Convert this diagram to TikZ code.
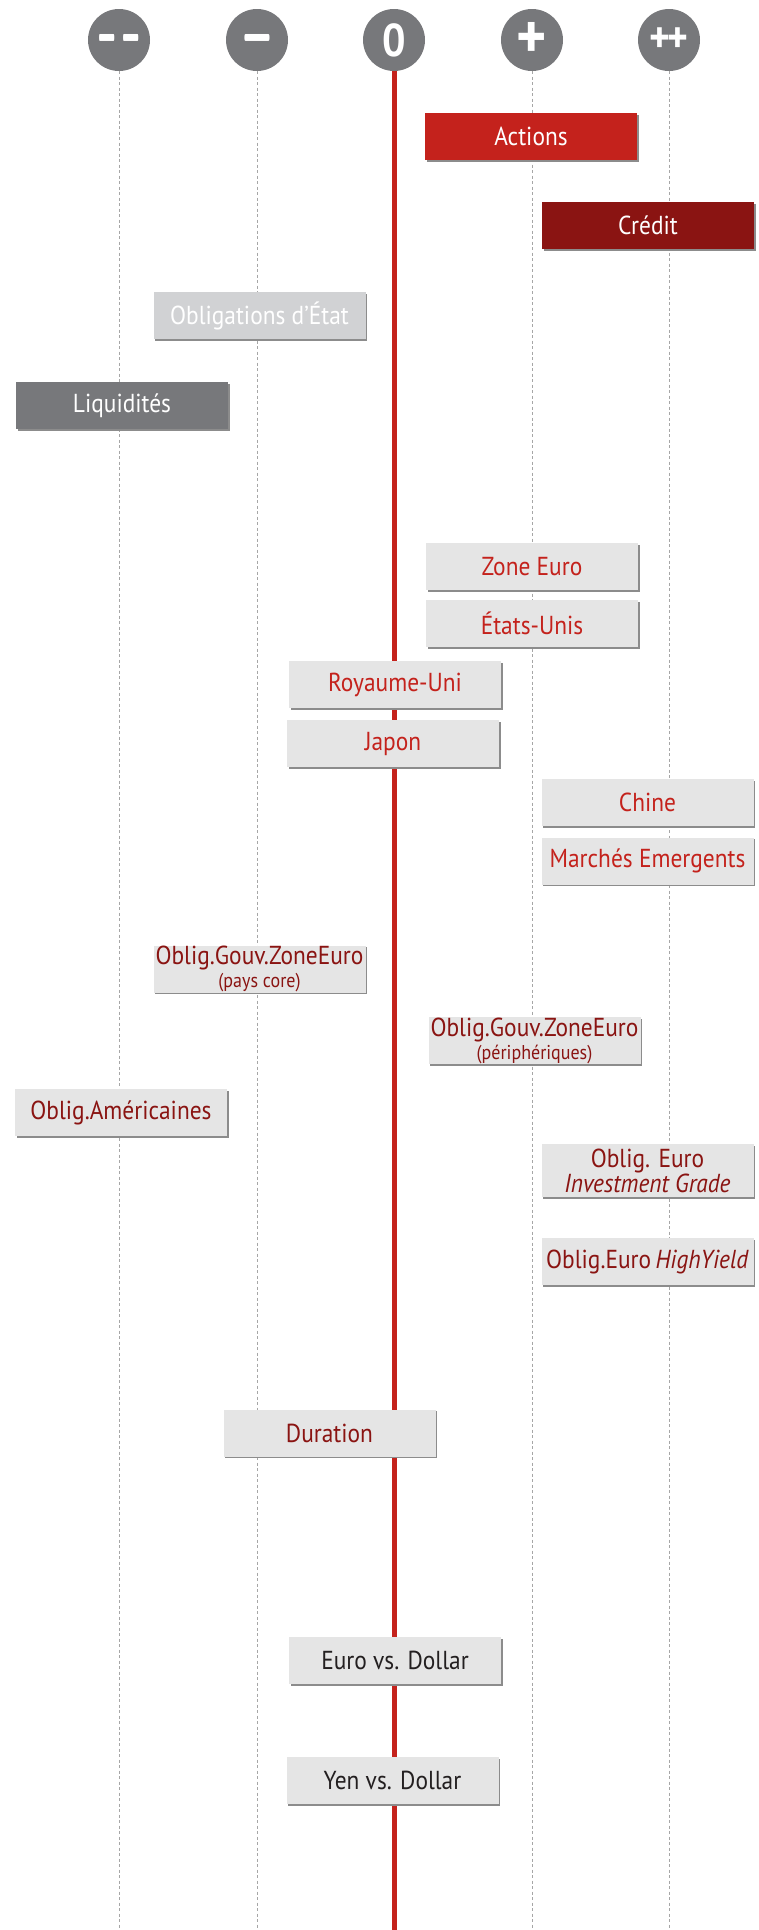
\documentclass[tikz,border=0pt]{standalone}
\usepackage{fontspec}
\setmainfont{PT Sans}[FakeStretch=0.9]
\usepackage{tikz}
\usetikzlibrary{shadows}
\definecolor{actred}{HTML}{C4221C}
\definecolor{credred}{HTML}{8A1412}
\definecolor{etatgray}{HTML}{D1D2D4}
\definecolor{liqgray}{HTML}{77787B}
\definecolor{boxgray}{HTML}{E5E5E5}
\definecolor{fxdark}{HTML}{231F20}
\newcommand{\Sub}[1]{{\fontsize{20}{21}\selectfont #1}}
% thick minus centred on the baseline (#1 = xscale, #2 = yscale), at 24pt
\newcommand{\Minus}[2]{\smash{\raisebox{-#2\dimexpr 6pt\relax}{\scalebox{#1}[#2]{$-$}}}}

\begin{document}
\begin{tikzpicture}[x=1pt, y=-1pt,
    level/.style={circle, fill=liqgray, minimum size=62pt, inner sep=0pt,
      text=white, font=\bfseries\fontsize{40}{40}\selectfont},
    bar/.style={rectangle, minimum width=212pt, minimum height=47pt, inner sep=0pt,
      align=center, font=\fontsize{26}{26}\selectfont,
      drop shadow={shadow xshift=1.5pt, shadow yshift=-1.5pt, fill=black!45, opacity=1}},
    pays/.style={bar, fill=boxgray, text=actred},
    oblig/.style={bar, fill=boxgray, text=credred},
    fx/.style={bar, fill=boxgray, text=fxdark},
    guide/.style={draw=black!35, line width=0.8pt, dash pattern=on 3pt off 2.5pt}]

  \useasboundingbox (0,0) rectangle (758,1930);

  % echelle
  \node[level] (mm) at (119,40) {\fontsize{24}{24}\selectfont\Minus{1}{7}\kern5pt\Minus{1}{7}};
  \node[level] (m)  at (257,40) {\fontsize{24}{24}\selectfont\Minus{1.65}{7}};
  \node[level] (z)  at (394,40) {\fontsize{46}{46}\selectfont 0};
  \node[level] (p)  at (532,40) {\fontsize{64}{64}\selectfont +};
  \node[level] (pp) at (669,40) {\fontsize{44}{44}\selectfont +\kern-3pt+};

  \foreach \c in {mm,m,p,pp}
    \draw[guide] (\c.south) -- (\c.south |- 0,1930);
  \draw[actred, line width=5pt] (z.south) -- (z.south |- 0,1930);

  % classes d'actifs
  \node[bar, fill=actred, text=white]    (actions) at (531,136.5) {Actions};
  \node[bar, fill=credred, text=white]   (credit)  at (648,225.5) {Crédit};
  \node[bar, fill=etatgray, text=white]  (etat)    at (259.5,315.5) {Obligations d’État};
  \node[bar, fill=liqgray, text=white]   (liq)     at (122,405.5) {Liquidités};

  % actions par zone
  \node[pays] (zeuro)  at (532,566.5) {Zone Euro};
  \node[pays] (usa)    at (532,623.5) {États-Unis};
  \node[pays] (uk)     at (395,684.5) {Royaume-Uni};
  \node[pays] (japon)  at (393,743.5) {Japon};
  \node[pays] (chine)  at (647.5,802.5) {Chine};
  \node[pays] (emerg)  at (647.5,861) {Marchés Emergents};

  % obligations
  \node[oblig] (core)   at (259.5,969) {Oblig.Gouv.ZoneEuro\\[-3pt]\Sub{(pays core)}};
  \node[oblig] (periph) at (534.5,1040.5) {Oblig.Gouv.ZoneEuro\\[-3pt]\Sub{(périphériques)}};
  \node[oblig] (amer)   at (121,1112.5) {Oblig.Américaines};
  \node[oblig, minimum height=53pt] (ig) at (647.5,1170.5) {Oblig. Euro\\[-1pt]\textit{Investment Grade}};
  \node[oblig] (hy)     at (647.5,1261.5) {Oblig.Euro\,\textit{HighYield}};
  \node[oblig] (dur)    at (329.5,1433) {Duration};

  % devises
  \node[fx] (eurusd) at (395,1660.5) {Euro vs. Dollar};
  \node[fx] (jpyusd) at (392.5,1780.5) {Yen vs. Dollar};

\end{tikzpicture}
\end{document}
